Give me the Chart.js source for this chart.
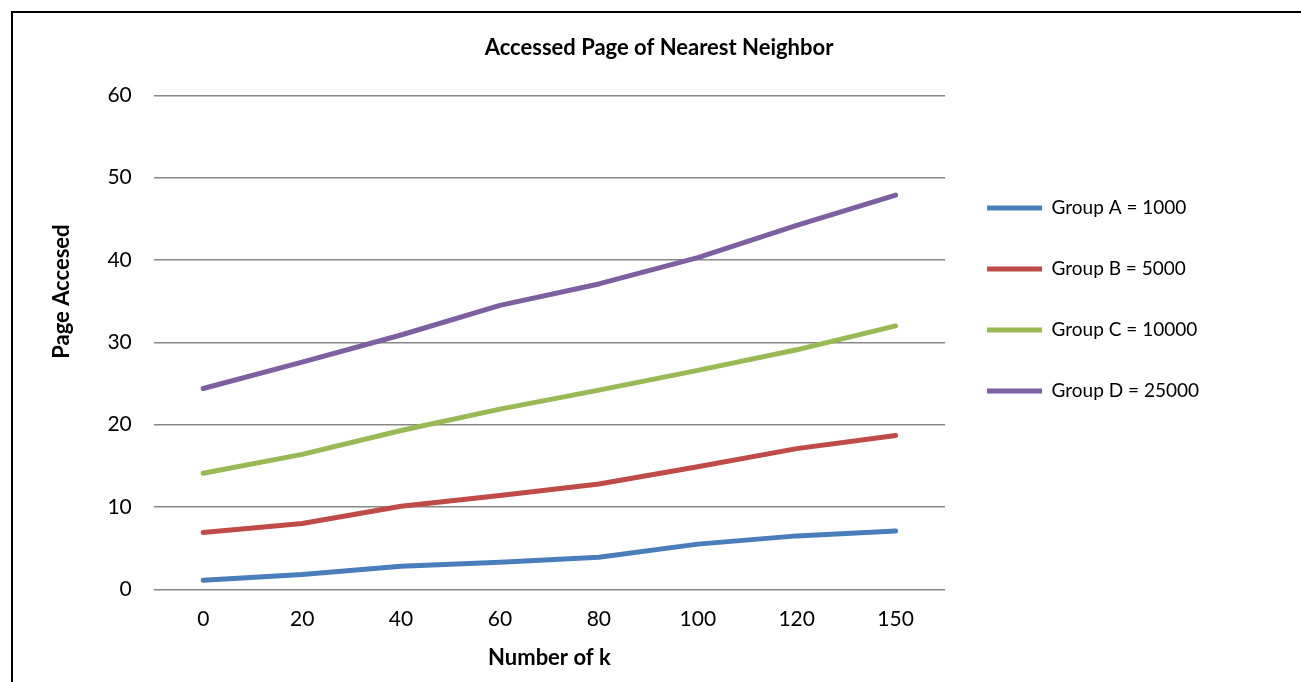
<!DOCTYPE html>
<html>
<head>
<meta charset="utf-8">
<script src="https://cdn.jsdelivr.net/npm/chart.js@4"></script>
<style>
  html, body { margin: 0; padding: 0; background: #fff; overflow: hidden; }
  #frame {
    position: absolute; left: 11px; top: 11px; width: 1400px; height: 800px;
    border-left: 2px solid #000; border-top: 2px solid #000;
  }
  #wrap { position: absolute; left: 17px; top: 14px; width: 1284px; height: 668px; }
</style>
</head>
<body>
<div id="frame"></div>
<div id="wrap"><canvas id="chart"></canvas></div>
<script>
// values
const kValues = ["0", "20", "40", "60", "80", "100", "120", "150"];
const groupA = [1.1, 1.8, 2.8, 3.3, 3.9, 5.5, 6.5, 7.1];
const groupB = [6.9, 8.0, 10.1, 11.4, 12.8, 14.9, 17.1, 18.7];
const groupC = [14.1, 16.4, 19.3, 21.9, 24.2, 26.6, 29.1, 32.0];
const groupD = [24.4, 27.6, 30.9, 34.5, 37.1, 40.3, 44.2, 47.9];
const seriesNames = ["Group A = 1000", "Group B = 5000", "Group C = 10000", "Group D = 25000"];
const seriesColors = ["#4a7ebb", "#be4b48", "#98b954", "#7d60a0"];

const font = "Lato, 'Open Sans', sans-serif";
const grid = "#878787";

const ds = (label, data, color) => ({
  label, data,
  borderColor: color, backgroundColor: color,
  borderWidth: 5, pointRadius: 0, tension: 0,
  borderCapStyle: "round", borderJoinStyle: "round"
});

// centre the chart title on the whole canvas, like Excel does
const titleCenter = {
  id: "titleCenter",
  afterLayout(chart) {
    if (!chart.titleBlock) return;
    chart.titleBlock.left = 0;
    chart.titleBlock.right = chart.width;
  }
};

new Chart(document.getElementById("chart"), {
  type: "line",
  data: {
    labels: kValues,
    datasets: [
      ds(seriesNames[0], groupA, seriesColors[0]),
      ds(seriesNames[1], groupB, seriesColors[1]),
      ds(seriesNames[2], groupC, seriesColors[2]),
      ds(seriesNames[3], groupD, seriesColors[3])
    ]
  },
  plugins: [titleCenter],
  options: {
    responsive: true,
    maintainAspectRatio: false,
    animation: false,
    layout: { padding: { left: 32, right: 92, top: 0, bottom: 11 } },
    plugins: {
      tooltip: { enabled: false },
      title: {
        display: true,
        text: "Accessed Page of Nearest Neighbor",
        color: "#000",
        font: { family: font, size: 22, weight: "bold" },
        padding: { top: 21, bottom: 34 }
      },
      legend: {
        position: "right",
        align: "start",
        // empty legend title only pushes the entries down
        title: { display: true, text: "", padding: { top: 128, bottom: 0 } },
        labels: {
          color: "#000",
          font: { family: font, size: 19 },
          boxWidth: 55,
          boxHeight: 5,
          padding: 42,
          useBorderRadius: true,
          borderRadius: 2.5,
          generateLabels: (chart) => chart.data.datasets.map((d, i) => ({
            text: d.label,
            fillStyle: d.borderColor,
            strokeStyle: d.borderColor,
            lineWidth: 0,
            fontColor: "#000",
            datasetIndex: i
          }))
        }
      }
    },
    scales: {
      x: {
        offset: true,
        grid: { display: false, drawTicks: false },
        border: { display: false },
        ticks: { color: "#000", font: { family: font, size: 21 }, padding: 17 },
        title: {
          display: true, text: "Number of k", color: "#000",
          font: { family: font, size: 22, weight: "bold" },
          padding: { top: -4, bottom: 0 }
        }
      },
      y: {
        min: 0, max: 60,
        ticks: { stepSize: 10, color: "#000", font: { family: font, size: 21 }, padding: 22 },
        grid: { color: grid, lineWidth: 1.5, drawTicks: false },
        border: { display: false },
        title: {
          display: true,
          // leading blanks lift the rotated title above the middle, as in the original
          text: " ".repeat(19) + "Page Accesed",
          color: "#000",
          font: { family: font, size: 22, weight: "bold" },
          padding: { top: 0, bottom: 10 }
        }
      }
    }
  }
});
</script>
</body>
</html>
